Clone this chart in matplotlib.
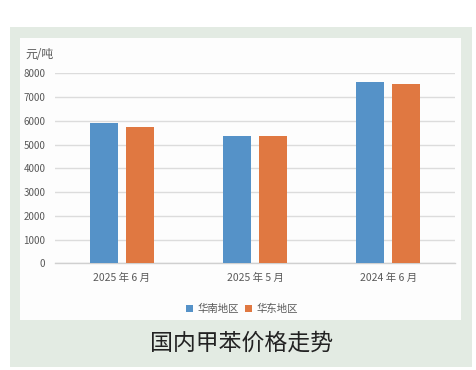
import matplotlib.pyplot as plt
import numpy as np
from matplotlib.patches import Rectangle

plt.rcParams['font.family'] = ['Noto Sans CJK SC', 'DejaVu Sans']

categories = ['2025 年 6 月', '2025 年 5 月', '2024 年 6 月']
south = [5900, 5380, 7650]
east = [5750, 5380, 7550]
series_names = ['华南地区', '华东地区']
yticks = [0, 1000, 2000, 3000, 4000, 5000, 6000, 7000, 8000]

W, H = 477, 370
fig = plt.figure(figsize=(W / 100, H / 100), dpi=100)
fig.patch.set_facecolor('white')

# background panels
fig.patches.append(Rectangle((10 / W, 1 - 367 / H), 462 / W, 340 / H,
                             transform=fig.transFigure, facecolor='#e3ebe3', edgecolor='none', zorder=-2))
fig.patches.append(Rectangle((20 / W, 1 - 320 / H), 441 / W, 282 / H,
                             transform=fig.transFigure, facecolor='#fdfdfd', edgecolor='none', zorder=-1))

ax = fig.add_axes([55 / W, 1 - 263.3 / H, 400 / W, 190 / H])
ax.set_facecolor('none')

x = np.arange(len(categories))
w = 0.21
ax.bar(x - 0.135, south, w, color='#5592c8', label=series_names[0], zorder=3)
ax.bar(x + 0.135, east, w, color='#e07841', label=series_names[1], zorder=3)

ax.set_xlim(-0.5, 2.5)
ax.set_ylim(0, 8000)
ax.set_yticks(yticks)
ax.set_yticklabels([str(v) for v in yticks], fontsize=7, color='#595959')
ax.set_xticks(x)
ax.set_xticklabels(categories, fontsize=7.5, color='#595959')
ax.tick_params(length=0)
ax.tick_params(axis='y', pad=7)
ax.tick_params(axis='x', pad=7)
ax.grid(axis='y', color='#dcdcdc', linewidth=1, zorder=0)
for s in ['top', 'right', 'left']:
    ax.spines[s].set_visible(False)
ax.spines['bottom'].set_color('#d0d0d0')
ax.spines['bottom'].set_linewidth(1)

fig.text(25 / W, 1 - 55 / H, '元/吨', fontsize=8.5, color='#595959', va='center', ha='left')

handles, labels = ax.get_legend_handles_labels()
fig.legend(handles, labels, loc='center', bbox_to_anchor=(242 / W, 1 - 309 / H), ncol=2,
           frameon=False, fontsize=7.5, handlelength=0.7, handleheight=0.7,
           handletextpad=0.4, columnspacing=0.6, labelcolor='#595959')

fig.text(241 / W, 1 - 343 / H, '国内甲苯价格走势', fontsize=16.5, color='#222222',
         ha='center', va='center')

fig.savefig('out.png', dpi=100)
